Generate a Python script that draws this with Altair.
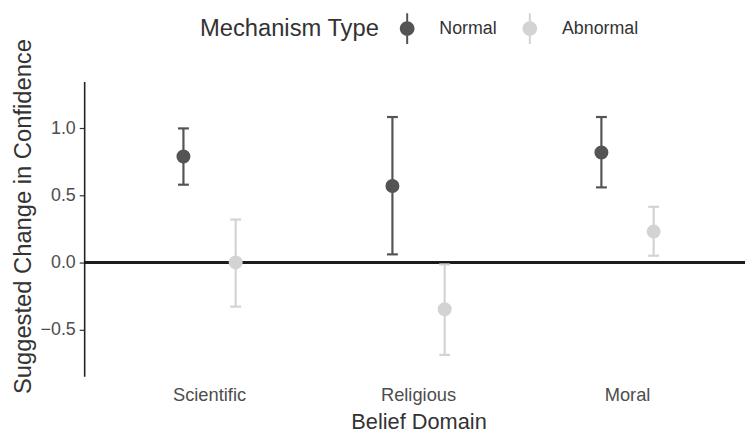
import altair as alt
import pandas as pd

domains = ["Scientific", "Religious", "Moral"]
mech_types = ["Normal", "Abnormal"]
normal_mean = [0.79, 0.57, 0.82]
normal_low = [0.58, 0.06, 0.56]
normal_high = [1.00, 1.085, 1.085]
abnormal_mean = [0.00, -0.35, 0.23]
abnormal_low = [-0.33, -0.69, 0.05]
abnormal_high = [0.32, -0.015, 0.415]

rows = []
for i, d in enumerate(domains):
    rows.append(dict(domain=d, mtype="Normal", mean=normal_mean[i], low=normal_low[i], high=normal_high[i]))
    rows.append(dict(domain=d, mtype="Abnormal", mean=abnormal_mean[i], low=abnormal_low[i], high=abnormal_high[i]))
df = pd.DataFrame(rows)

FONT = "Liberation Sans"
COLORS = ["#545454", "#d3d3d3"]
SYMBOL = "M-0.065,-1H0.065V1H-0.065Z M0.48,0A0.48,0.48,0,1,1,-0.48,0A0.48,0.48,0,1,1,0.48,0Z"

x_enc = alt.X(
    "domain:N", sort=domains, title="Belief Domain",
    scale=alt.Scale(paddingInner=0, paddingOuter=0.1, range=[0, 676]),
    axis=alt.Axis(domain=False, ticks=False, labelAngle=0, labelFontSize=18.5, labelColor="#4d4d4d",
                  labelPadding=9, titleFontSize=22, titleColor="#333333", titleFontWeight="normal",
                  titlePadding=8, labelFont=FONT, titleFont=FONT),
)
xoff = alt.XOffset("mtype:N", sort=mech_types, scale=alt.Scale(paddingInner=0, paddingOuter=1))
y_scale = alt.Scale(domain=[-0.85, 1.35], nice=False, zero=False)
y_axis = alt.Axis(values=[-0.5, 0, 0.5, 1.0], labelExpr="replace(format(datum.value, '.1f'), '-', '\u2212')",
                  grid=False, domainColor="#222222", domainWidth=1.6, tickColor="#333333", tickSize=5,
                  tickWidth=1.2, labelFontSize=18, labelColor="#4d4d4d", labelPadding=4,
                  titleFontSize=24, titleColor="#333333", titleFontWeight="normal",
                  titleX=-61, titleY=136, titleAlign="center", titleBaseline="middle",
                  labelFont=FONT, titleFont=FONT)

legend = alt.Legend(orient="none", legendX=117, legendY=-69, direction="horizontal", title="Mechanism Type",
                    titleOrient="left", titleFontSize=24, titleFontWeight="normal", titleColor="#333333",
                    titleFont=FONT, labelFont=FONT, labelFontSize=18, labelColor="#333333",
                    titleLimit=400, labelLimit=200,
                    symbolType=SYMBOL, symbolSize=961, symbolStrokeWidth=0, labelOffset=17,
                    columnPadding=17, titlePadding=12, titleAnchor="middle", titleBaseline="middle")

color_leg = alt.Color("mtype:N", scale=alt.Scale(domain=mech_types, range=COLORS), legend=legend,
                      title="Mechanism Type")

base = alt.Chart(df)

zero_line = alt.Chart(df).mark_rule(color="#1a1a1a", strokeWidth=2).encode(
    y=alt.datum(0, scale=y_scale), x=alt.value(0), x2=alt.value(700)
)

bars = base.mark_rule(strokeWidth=2.2).encode(
    x=x_enc, xOffset=xoff,
    y=alt.Y("low:Q", scale=y_scale, axis=y_axis, title="Suggested Change in Confidence"),
    y2="high:Q", color=color_leg,
)
caps = base.transform_fold(["low", "high"], as_=["which", "val"]).mark_tick(
    thickness=2.2, size=11, orient="horizontal", opacity=1
).encode(
    x=x_enc, xOffset=xoff,
    y=alt.Y("val:Q", scale=y_scale, axis=y_axis, title="Suggested Change in Confidence"),
    color=color_leg,
)
points = base.mark_circle(size=200, opacity=1).encode(
    x=x_enc, xOffset=xoff,
    y=alt.Y("mean:Q", scale=y_scale, axis=y_axis, title="Suggested Change in Confidence"),
    color=color_leg,
)

chart = alt.layer(zero_line, bars, caps, points).properties(
    width=668, height=298,
    padding={"left": 77, "top": 72, "right": 0, "bottom": 56},
    autosize=alt.AutoSizeParams(type="none"),
).configure(font=FONT, view=alt.ViewConfig(stroke="transparent"))

chart.save("out.html", embed_options={"renderer": "svg", "actions": False})
